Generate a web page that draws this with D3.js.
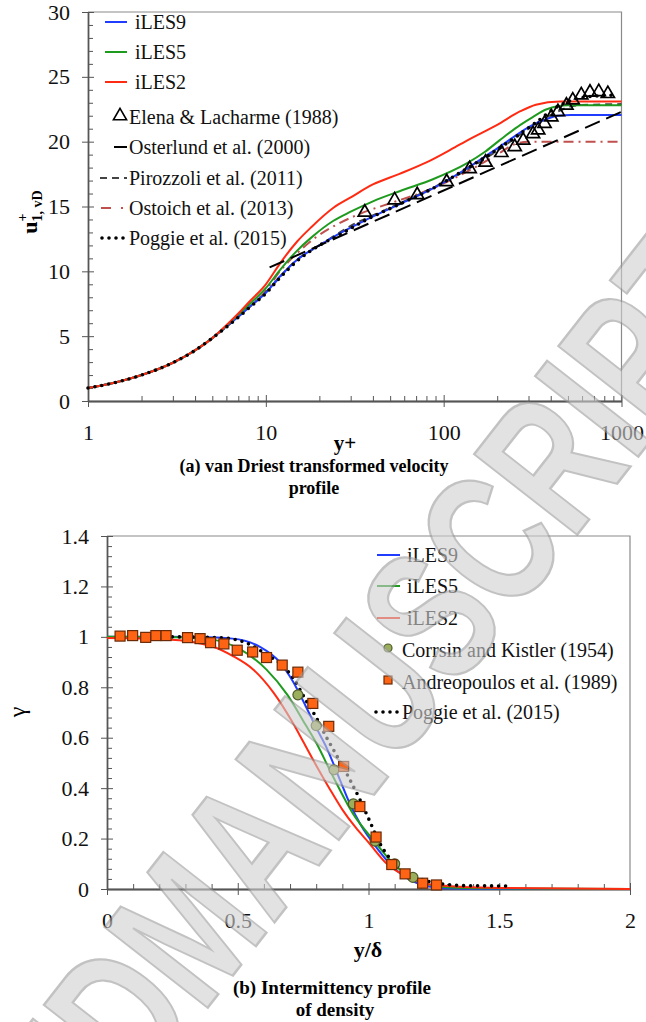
<!DOCTYPE html>
<html>
<head>
<meta charset="utf-8">
<script src="https://cdn.jsdelivr.net/npm/d3@7"></script>
<style>
  body { margin: 0; background: #fff; }
  svg text { font-family: "Liberation Serif", "Times New Roman", serif; }
  .tick text { font-size: 22px; fill: #111; }
  .axis path, .axis line { stroke: #555; }
  .leg { font-size: 20px; fill: #111; }
</style>
</head>
<body>
<div id="chart"></div>
<script>
// ---- (a) velocity profile data: [y+, u+] ----
const iles9A = [[1,1],[1.5,1.5],[2,2],[3,2.95],[4,3.9],[5,4.85],[6,5.75],[7,6.5],[8,7.2],[10,8.35],[12,9.6],[15,10.9],[20,12.0],[25,12.8],[37,14.0],[57,15.2],[87,16.4],[134,17.9],[206,19.6],[317,21.3],[380,21.75],[440,22.0],[520,22.05],[1000,22.05]];
const iles5A = [[1,1],[1.5,1.5],[2,2],[3,2.95],[4,3.9],[5,4.85],[6,5.8],[7,6.65],[8,7.4],[10,8.7],[12,10.1],[15,11.6],[18,12.6],[24,13.9],[30,14.6],[40,15.4],[57,16.2],[87,17.1],[134,18.3],[170,19.2],[206,20.1],[270,21.3],[317,21.9],[380,22.5],[500,22.8],[1000,22.8]];
const iles2A = [[1,1],[1.5,1.5],[2,2],[3,2.95],[4,3.9],[5,4.85],[6,5.85],[7,6.75],[8,7.6],[10,9.0],[12,10.6],[15,12.3],[18,13.4],[24,14.9],[30,15.7],[40,16.7],[56,17.5],[80,18.4],[110,19.4],[140,20.2],[200,21.3],[270,22.35],[330,22.85],[450,23.1],[1000,23.1]];
const elena = [[36,14.55],[53,15.5],[71,15.9],[104,16.9],[140,17.9],[172,18.4],[211,19.15],[251,19.6],[280,20.1],[318,20.6],[340,20.9],[369,21.4],[403,21.9],[439,22.3],[490,22.8],[532,23.2],[594,23.6],[665,23.8],[745,23.85],[838,23.7]];
const osterlund = [[10.5,10.3],[1000,22.3]];
const pirozzoli = [[1,1],[2,2],[3,2.95],[5,4.85],[7,6.5],[10,8.4],[15,10.9],[20,12.0],[30,13.5],[50,14.9],[80,16.2],[130,17.7],[200,19.3],[300,21.0],[420,22.2],[560,22.8],[1000,22.9]];
const ostoich = [[1,1],[2,2],[3,2.95],[5,4.85],[7,6.55],[10,8.5],[12,10.0],[15,11.4],[19,12.6],[25,13.6],[32,14.3],[54,15.4],[80,16.2],[140,17.8],[200,19.0],[250,19.8],[300,20.0],[1000,20.0]];
const poggieA = [[1,1],[1.5,1.5],[2,2],[3,2.95],[4,3.9],[5,4.85],[6,5.7],[7,6.45],[8,7.15],[10,8.3],[12,9.5],[15,10.8],[20,12.0],[25,12.7],[37,14.0],[57,15.2],[87,16.4],[134,17.9],[206,19.5],[317,21.3],[450,22.8],[600,23.4],[930,23.6]];
const xTicksA = [1, 10, 100, 1000];
const yTicksA = [0, 5, 10, 15, 20, 25, 30];

// ---- (b) intermittency data: [y/delta, gamma] ----
const iles9B = [[0,1],[0.2,1.0],[0.35,0.999],[0.48,0.993],[0.585,0.96],[0.66,0.9],[0.71,0.825],[0.76,0.725],[0.8,0.64],[0.84,0.56],[0.89,0.435],[0.93,0.335],[0.97,0.255],[1.03,0.165],[1.1,0.08],[1.16,0.035],[1.22,0.012],[1.3,0.003],[1.45,0],[2,0]];
const iles5B = [[0,1],[0.2,0.999],[0.3,0.997],[0.41,0.988],[0.51,0.95],[0.61,0.87],[0.69,0.77],[0.76,0.65],[0.8,0.58],[0.86,0.455],[0.94,0.3],[1.03,0.18],[1.1,0.095],[1.18,0.038],[1.27,0.01],[1.4,0.003],[2,0]];
const iles2B = [[0,0.995],[0.23,0.99],[0.4,0.963],[0.48,0.925],[0.56,0.87],[0.636,0.78],[0.71,0.66],[0.75,0.585],[0.8,0.49],[0.85,0.4],[0.9,0.315],[0.95,0.245],[1.0,0.185],[1.07,0.1],[1.16,0.043],[1.25,0.016],[1.5,0.004],[2,0]];
const corrsin = [[0.73,0.77],[0.80,0.648],[0.868,0.473],[0.942,0.338],[1.025,0.19],[1.10,0.1],[1.17,0.046]];
const andreo = [[0.05,1.003],[0.098,1.005],[0.148,0.998],[0.187,1.005],[0.226,1.005],[0.308,0.997],[0.356,0.993],[0.396,0.977],[0.447,0.972],[0.498,0.947],[0.557,0.94],[0.61,0.918],[0.67,0.888],[0.73,0.86],[0.787,0.736],[0.848,0.645],[0.905,0.486],[0.967,0.327],[1.029,0.206],[1.089,0.097],[1.14,0.06],[1.207,0.023],[1.26,0.016]];
const poggieB = [[0.25,1.0],[0.43,0.997],[0.53,0.977],[0.61,0.93],[0.68,0.877],[0.713,0.835],[0.757,0.755],[0.80,0.68],[0.84,0.6],[0.878,0.53],[0.923,0.445],[0.967,0.355],[1.0,0.28],[1.044,0.18],[1.095,0.105],[1.146,0.062],[1.21,0.036],[1.27,0.022],[1.376,0.013],[1.55,0.012]];
const xTicksB = [0, 0.5, 1, 1.5, 2];
const yTicksB = [0, 0.2, 0.4, 0.6, 0.8, 1, 1.2, 1.4];

const width = 646, height = 1022;
const blue = '#1f3cff', green = '#1e9a1e', red = '#ff2a12';

const svg = d3.select('#chart').append('svg')
  .attr('width', width)
  .attr('height', height);

// scales
const xA = d3.scaleLog().domain([1, 1000]).range([88, 621.5]);
const yA = d3.scaleLinear().domain([0, 30]).range([401, 12]);
const xB = d3.scaleLinear().domain([0, 2]).range([107, 630]);
const yB = d3.scaleLinear().domain([0, 1.4]).range([889, 536]);

function frame(x, y) {
  const [x0, x1] = x.range(), [y0, y1] = y.range();
  svg.append('path')
    .attr('d', `M${x0},${y1}H${x1}V${y0}`)
    .attr('fill', 'none')
    .attr('stroke', '#8a8a8a')
    .attr('stroke-width', 1.2);
}

function axes(x, y, xTicks, yTicks, xMinor, yMinor, xFmt, yFmt) {
  const y0 = y.range()[0], x0 = x.range()[0];
  // x axis: labels + outside ticks
  const xg = svg.append('g').attr('class', 'axis')
    .attr('transform', `translate(0,${y0})`)
    .call(d3.axisBottom(x).tickValues(xTicks).tickFormat(xFmt).tickSize(6).tickSizeOuter(0));
  xg.selectAll('.tick text').attr('y', 39).attr('dy', 0);
  svg.append('g').attr('class', 'axis')
    .attr('transform', `translate(0,${y0})`)
    .call(d3.axisBottom(x).tickValues(xTicks).tickFormat('').tickSize(-6).tickSizeOuter(0));
  svg.append('g').attr('class', 'axis')
    .attr('transform', `translate(0,${y0})`)
    .call(d3.axisBottom(x).tickValues(xMinor).tickFormat('').tickSize(-5).tickSizeOuter(0));
  // y axis
  const yg = svg.append('g').attr('class', 'axis')
    .attr('transform', `translate(${x0},0)`)
    .call(d3.axisLeft(y).tickValues(yTicks).tickFormat(yFmt).tickSize(6).tickSizeOuter(0));
  yg.selectAll('.tick text').attr('x', -18);
  svg.append('g').attr('class', 'axis')
    .attr('transform', `translate(${x0},0)`)
    .call(d3.axisLeft(y).tickValues(yTicks).tickFormat('').tickSize(-6).tickSizeOuter(0));
  svg.append('g').attr('class', 'axis')
    .attr('transform', `translate(${x0},0)`)
    .call(d3.axisLeft(y).tickValues(yMinor).tickFormat('').tickSize(-5).tickSizeOuter(0));
  svg.selectAll('.axis path').attr('stroke-width', 1.3);
}

function curve(x, y, data, color, w, dash, cap) {
  const line = d3.line().x(d => x(d[0])).y(d => y(d[1])).curve(d3.curveMonotoneX);
  svg.append('path')
    .attr('d', line(data))
    .attr('fill', 'none')
    .attr('stroke', color)
    .attr('stroke-width', w)
    .attr('stroke-dasharray', dash || null)
    .attr('stroke-linecap', cap || 'butt');
}

// ================= (a) =================
frame(xA, yA);
const minorA = xA.ticks().filter(d => xTicksA.indexOf(d) < 0);
axes(xA, yA, xTicksA, yTicksA, minorA, d3.range(1, 30).filter(d => d % 5), d3.format('d'), d3.format('d'));

curve(xA, yA, ostoich, '#c0504d', 2, '10,5,2,5');
curve(xA, yA, pirozzoli, '#444', 2, '7,5');
curve(xA, yA, iles9A, blue, 2);
curve(xA, yA, iles5A, green, 2);
curve(xA, yA, iles2A, red, 2);
curve(xA, yA, osterlund, '#000', 2, '16,7');
curve(xA, yA, poggieA, '#000', 3.6, '0,7', 'round');

const tri = d3.symbol().type(d3.symbolTriangle).size(75);
svg.append('g').selectAll('path').data(elena).enter().append('path')
  .attr('d', tri)
  .attr('transform', d => `translate(${xA(d[0])},${yA(d[1])})`)
  .attr('fill', 'none')
  .attr('stroke', '#000')
  .attr('stroke-width', 1.7);

// legend (a)
const legA = svg.append('g');
[['iLES9', blue, 22], ['iLES5', green, 52], ['iLES2', red, 82]].forEach(([t, c, y]) => {
  legA.append('line').attr('x1', 105).attr('x2', 127).attr('y1', y).attr('y2', y)
    .attr('stroke', c).attr('stroke-width', 2);
  legA.append('text').attr('class', 'leg').attr('x', 135).attr('y', y + 7).text(t);
});
legA.append('path').attr('d', tri).attr('transform', 'translate(120,116)')
  .attr('fill', 'none').attr('stroke', '#000').attr('stroke-width', 1.6);
legA.append('line').attr('x1', 114).attr('x2', 127).attr('y1', 147).attr('y2', 147).attr('stroke', '#000').attr('stroke-width', 2);
legA.append('line').attr('x1', 100).attr('x2', 127).attr('y1', 178).attr('y2', 178).attr('stroke', '#444').attr('stroke-width', 2).attr('stroke-dasharray', '7,5');
legA.append('line').attr('x1', 101).attr('x2', 124).attr('y1', 208).attr('y2', 208).attr('stroke', '#c0504d').attr('stroke-width', 2).attr('stroke-dasharray', '10,10,2,5');
legA.append('line').attr('x1', 102).attr('x2', 127).attr('y1', 238).attr('y2', 238).attr('stroke', '#000').attr('stroke-width', 3.6).attr('stroke-dasharray', '0,7').attr('stroke-linecap', 'round');
[['Elena & Lacharme (1988)', 117], ['Osterlund et al. (2000)', 147], ['Pirozzoli et al. (2011)', 178], ['Ostoich et al. (2013)', 208], ['Poggie et al. (2015)', 238]]
  .forEach(([t, y]) => legA.append('text').attr('class', 'leg').attr('x', 129).attr('y', y + 7).text(t));

// titles (a)
const yl = svg.append('text').attr('transform', 'translate(37,212) rotate(-90)')
  .attr('text-anchor', 'middle').attr('font-weight', 'bold').attr('font-size', 22);
yl.append('tspan').text('u');
yl.append('tspan').attr('font-size', 14).attr('dy', -10).text('+');
yl.append('tspan').attr('font-size', 14).attr('dx', -8).attr('dy', 15).text('1, vD');
svg.append('text').attr('x', 345).attr('y', 450).attr('text-anchor', 'middle')
  .attr('font-weight', 'bold').attr('font-size', 21).text('y+');
svg.append('text').attr('x', 314).attr('y', 472).attr('text-anchor', 'middle')
  .attr('font-weight', 'bold').attr('font-size', 18).text('(a) van Driest transformed velocity');
svg.append('text').attr('x', 314).attr('y', 494).attr('text-anchor', 'middle')
  .attr('font-weight', 'bold').attr('font-size', 18).text('profile');

// ================= (b) =================
frame(xB, yB);
axes(xB, yB, xTicksB, yTicksB, d3.range(1, 20).filter(d => d % 5).map(d => d / 10),
  d3.range(1, 35).filter(d => d % 5).map(d => d * 0.04), d3.format('~g'), d3.format('~g'));

curve(xB, yB, iles9B, blue, 2);
curve(xB, yB, iles5B, green, 2);
curve(xB, yB, iles2B, red, 2);
curve(xB, yB, poggieB, '#000', 3.6, '0,7', 'round');

svg.append('g').selectAll('circle').data(corrsin).enter().append('circle')
  .attr('cx', d => xB(d[0])).attr('cy', d => yB(d[1])).attr('r', 5)
  .attr('fill', '#9aae5c').attr('stroke', '#4d5a28').attr('stroke-width', 1.2);
svg.append('g').selectAll('rect').data(andreo).enter().append('rect')
  .attr('x', d => xB(d[0]) - 5).attr('y', d => yB(d[1]) - 5).attr('width', 10).attr('height', 10)
  .attr('fill', '#ff6414').attr('stroke', '#6a2a08').attr('stroke-width', 1.2);

// legend (b)
const legB = svg.append('g');
[['iLES9', blue, 555], ['iLES5', green, 586], ['iLES2', red, 618]].forEach(([t, c, y]) => {
  legB.append('line').attr('x1', 377).attr('x2', 400).attr('y1', y).attr('y2', y)
    .attr('stroke', c).attr('stroke-width', 2);
  legB.append('text').attr('class', 'leg').attr('x', 407).attr('y', y + 7).text(t);
});
legB.append('circle').attr('cx', 388).attr('cy', 648).attr('r', 4)
  .attr('fill', '#9aae5c').attr('stroke', '#4d5a28').attr('stroke-width', 1.2);
legB.append('rect').attr('x', 384).attr('y', 676).attr('width', 8).attr('height', 8)
  .attr('fill', '#ff6414').attr('stroke', '#6a2a08').attr('stroke-width', 1.2);
legB.append('line').attr('x1', 376).attr('x2', 398).attr('y1', 712).attr('y2', 712).attr('stroke', '#000')
  .attr('stroke-width', 3.6).attr('stroke-dasharray', '0,7').attr('stroke-linecap', 'round');
[['Corrsin and Kistler (1954)', 650], ['Andreopoulos et al. (1989)', 682], ['Poggie et al. (2015)', 712]]
  .forEach(([t, y]) => legB.append('text').attr('class', 'leg').attr('x', 402).attr('y', y + 7).text(t));

// titles (b)
svg.append('text').attr('transform', 'translate(25,712) rotate(-90)')
  .attr('text-anchor', 'middle').attr('font-size', 24).text('γ');
svg.append('text').attr('x', 368).attr('y', 957).attr('text-anchor', 'middle')
  .attr('font-weight', 'bold').attr('font-size', 22).text('y/δ');
svg.append('text').attr('x', 332).attr('y', 994).attr('text-anchor', 'middle')
  .attr('font-weight', 'bold').attr('font-size', 19).text('(b) Intermittency profile');
svg.append('text').attr('x', 335).attr('y', 1016).attr('text-anchor', 'middle')
  .attr('font-weight', 'bold').attr('font-size', 19).text('of density');

// watermark (tall, condensed letters)
const wm = svg.append('g')
  .attr('transform', 'translate(202,1015) rotate(-52) scale(0.72,1)')
  .attr('opacity', 0.6)
  .style('pointer-events', 'none');
wm.append('text')
  .attr('text-anchor', 'end')
  .style('font-family', '"Liberation Sans", Arial, sans-serif')
  .attr('font-weight', 'bold')
  .attr('font-size', 190)
  .attr('fill', '#cfcfcf')
  .attr('stroke', '#9a9a9a')
  .attr('stroke-width', 2.5)
  .text('ACCEPTED ');
wm.append('text')
  .style('font-family', '"Liberation Sans", Arial, sans-serif')
  .attr('font-weight', 'bold')
  .attr('font-size', 190)
  .attr('fill', '#cfcfcf')
  .attr('stroke', '#9a9a9a')
  .attr('stroke-width', 2.5)
  .text('MANUSCRIPT');
</script>
</body>
</html>
